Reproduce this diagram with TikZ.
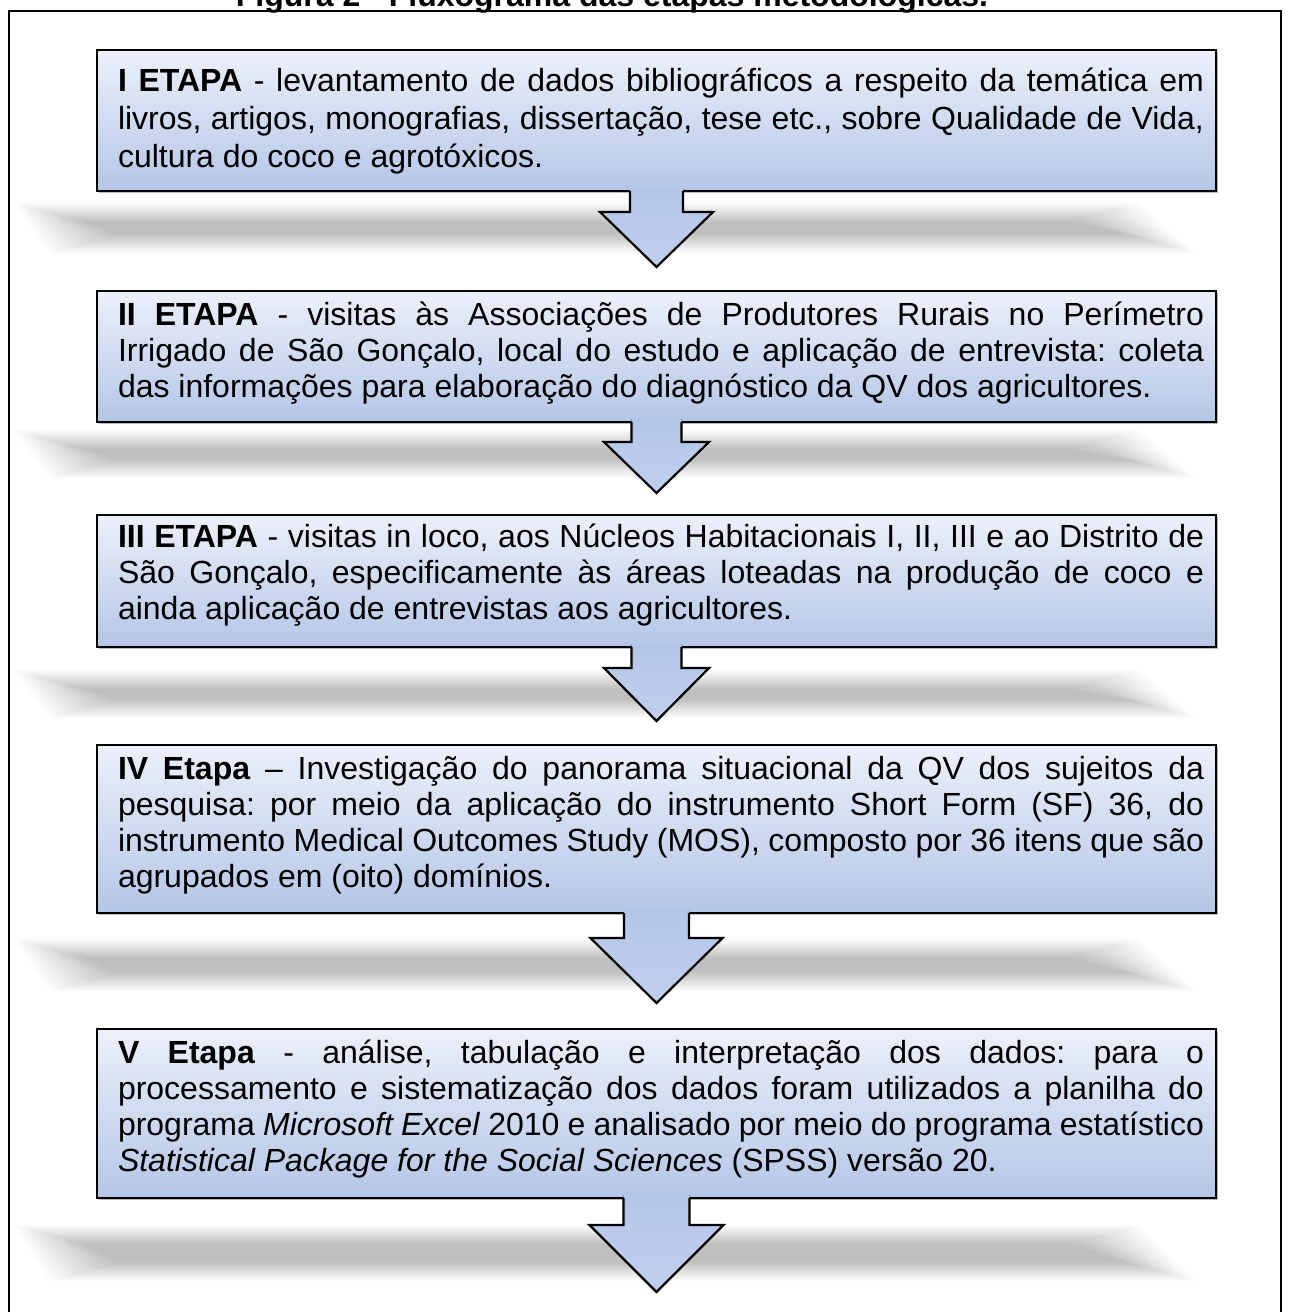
\documentclass[tikz,border=0pt]{standalone}
\usepackage{fontspec}
\setmainfont{Liberation Sans}
\usetikzlibrary{calc,shadows}
\frenchspacing
\definecolor{boxtop}{RGB}{236,240,250}
\definecolor{boxbot}{RGB}{180,198,231}
\definecolor{arrtop}{RGB}{180,198,231}
\definecolor{arrmid}{RGB}{167,188,229}
\definecolor{arrbot}{RGB}{192,207,238}
\newcommand\JL[1]{\hbox to \linewidth{#1}}
\newcommand\LL[1]{\hbox{#1}}
\newcommand\ShadowBand[2]{%
  \foreach \k in {0,...,15}{%
    \fill[black,fill opacity=0.0155] (14+4.5*\k,#1+1.25*\k) -- (1138-4.5*\k,#1+1.25*\k) -- (1196-4.5*\k,#2-1.25*\k) -- (50+4.5*\k,#2-1.25*\k) -- cycle;
  }}
\newcommand\FlowArrow[6]{%
  \coordinate (#6) at ($(#1.south)+(0,#5)$);
  \fill[arrowfill] ($(#1.south)+(-#2,-3)$) -- ($(#1.south)+(-#2,#3)$) -- ($(#1.south)+(-#4,#3)$) -- (#6) -- ($(#1.south)+(#4,#3)$) -- ($(#1.south)+(#2,#3)$) -- ($(#1.south)+(#2,-3)$) -- cycle;
  \draw[arrowline] ($(#1.south)+(-#2,0)$) -- ($(#1.south)+(-#2,#3)$) -- ($(#1.south)+(-#4,#3)$) -- (#6) -- ($(#1.south)+(#4,#3)$) -- ($(#1.south)+(#2,#3)$) -- ($(#1.south)+(#2,0)$);
}
\begin{document}
\begin{tikzpicture}[x=1pt,y=-1pt,
  stepbox/.style={draw=black, line width=2.2pt, top color=boxtop, bottom color=boxbot,
    minimum width=1119pt, inner sep=0pt, outer sep=0pt, anchor=north,
    drop shadow={shadow xshift=1.5pt, shadow yshift=-1.5pt, opacity=0.45, fill=black!60}},
  txt/.style={inner sep=0pt, outer sep=0pt, anchor=base west, text=black,
    font=\fontsize{32pt}{36pt}\selectfont},
  arrowfill/.style={top color=arrtop, middle color=arrmid, bottom color=arrbot, draw=none},
  arrowline/.style={draw=black, line width=2.2pt, line join=miter},
  frame/.style={draw=black, line width=2.6pt}]
\useasboundingbox (0,0) rectangle (1288,1312);
\fill[white] (0,0) rectangle (1288,1312);
\draw[frame] (9,11) rectangle (1281,1345);
\node[inner sep=0pt, anchor=base, font=\bfseries\fontsize{32pt}{36pt}\selectfont] (title) at (612,6) {Figura 2 - Fluxograma das etapas metodológicas.};

\ShadowBand{203}{253}
\ShadowBand{430}{478}
\ShadowBand{670}{718}
\ShadowBand{939}{991}
\ShadowBand{1225}{1281}

\node[stepbox, minimum height=141pt] (b1) at (656.5,50) {};
\node[stepbox, minimum height=131pt] (b2) at (656.5,291) {};
\node[stepbox, minimum height=132pt] (b3) at (656.5,515) {};
\node[stepbox, minimum height=168pt] (b4) at (656.5,745) {};
\node[stepbox, minimum height=169pt] (b5) at (656.5,1029) {};

\node[txt, font=\fontsize{32pt}{38pt}\selectfont] (t1) at (118,91) {\parbox[t]{1086pt}{%
\JL{\textbf{I ETAPA} - levantamento de dados bibliográficos a respeito da temática em}%
\JL{livros, artigos, monografias, dissertação, tese etc., sobre Qualidade de Vida,}%
\LL{cultura do coco e agrotóxicos.}}};

\node[txt] (t2) at (118,325) {\parbox[t]{1086pt}{%
\JL{\textbf{II ETAPA} - visitas às Associações de Produtores Rurais no Perímetro}%
\JL{Irrigado de São Gonçalo, local do estudo e aplicação de entrevista: coleta}%
\LL{das informações para elaboração do diagnóstico da QV dos agricultores.}}};

\node[txt] (t3) at (118,547) {\parbox[t]{1086pt}{%
\JL{\textbf{III ETAPA} - visitas in loco, aos Núcleos Habitacionais I, II, III e ao Distrito de}%
\JL{São Gonçalo, especificamente às áreas loteadas na produção de coco e}%
\LL{ainda aplicação de entrevistas aos agricultores.}}};

\node[txt] (t4) at (118,779) {\parbox[t]{1086pt}{%
\JL{\textbf{IV Etapa} – Investigação do panorama situacional da QV dos sujeitos da}%
\JL{pesquisa: por meio da aplicação do instrumento Short Form (SF) 36, do}%
\JL{instrumento Medical Outcomes Study (MOS), composto por 36 itens que são}%
\LL{agrupados em (oito) domínios.}}};

\node[txt] (t5) at (118,1063) {\parbox[t]{1086pt}{%
\JL{\textbf{V Etapa} - análise, tabulação e interpretação dos dados: para o}%
\JL{processamento e sistematização dos dados foram utilizados a planilha do}%
\JL{programa \textit{Microsoft Excel} 2010 e analisado por meio do programa estatístico}%
\LL{\textit{Statistical Package for the Social Sciences} (SPSS) versão 20.}}};

\FlowArrow{b1}{26.5}{21}{56.5}{76}{a1}
\FlowArrow{b2}{25}{20}{52.5}{71}{a2}
\FlowArrow{b3}{25}{21}{52.5}{74}{a3}
\FlowArrow{b4}{32.5}{25}{66}{90}{a4}
\FlowArrow{b5}{33}{27}{67}{94}{a5}
\end{tikzpicture}
\end{document}
